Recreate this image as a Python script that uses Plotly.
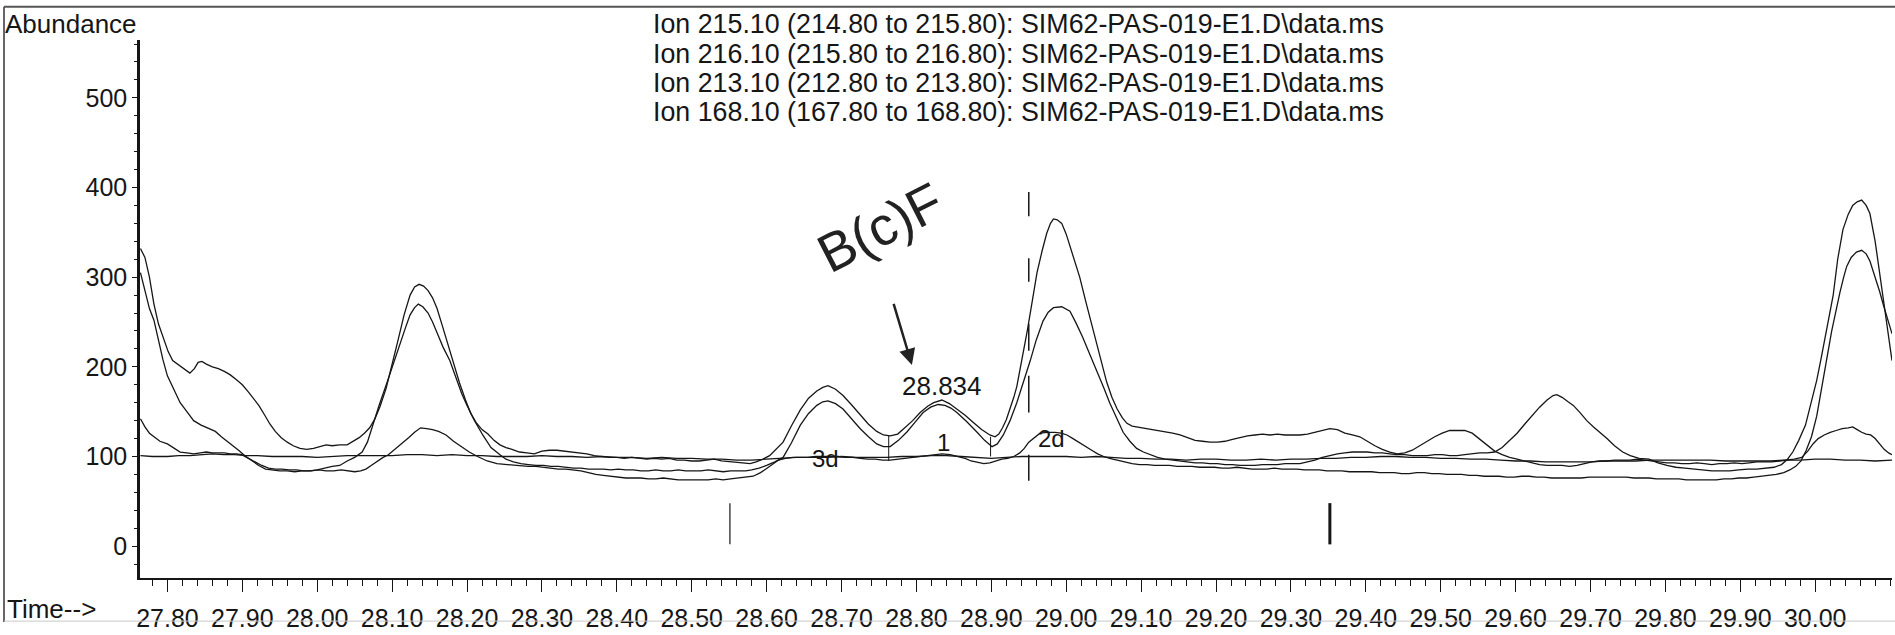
import plotly.graph_objects as go

# ---------------- chromatogram traces (retention time in min, abundance) ----------------
t_215 = [27.764, 27.770, 27.776, 27.782, 27.788, 27.795, 27.801, 27.807, 27.815, 27.823, 27.830, 27.836,
         27.841, 27.846, 27.852, 27.860, 27.868, 27.876, 27.884, 27.893, 27.900, 27.908, 27.915, 27.922,
         27.930, 27.937, 27.944, 27.952, 27.960, 27.968, 27.977, 27.986, 27.995, 28.003, 28.012, 28.020,
         28.030, 28.040, 28.048, 28.056, 28.063, 28.070, 28.077, 28.084, 28.092, 28.100, 28.108, 28.116,
         28.124, 28.130, 28.136, 28.142, 28.148, 28.154, 28.160, 28.167, 28.174, 28.182, 28.190, 28.198,
         28.205, 28.212, 28.220, 28.228, 28.236, 28.244, 28.252, 28.260, 28.270, 28.280, 28.290, 28.300,
         28.310, 28.320, 28.330, 28.340, 28.350, 28.360, 28.370, 28.380, 28.390, 28.400, 28.410, 28.420,
         28.430, 28.440, 28.450, 28.460, 28.470, 28.480, 28.490, 28.500, 28.510, 28.520, 28.530, 28.540,
         28.550, 28.560, 28.570, 28.578, 28.586, 28.595, 28.604, 28.613, 28.622, 28.633, 28.645, 28.656,
         28.667, 28.675, 28.682, 28.692, 28.702, 28.713, 28.725, 28.736, 28.747, 28.756, 28.765, 28.775,
         28.783, 28.795, 28.805, 28.815, 28.823, 28.834, 28.844, 28.854, 28.865, 28.876, 28.887, 28.898,
         28.905, 28.910, 28.915, 28.920, 28.925, 28.930, 28.934, 28.941, 28.948, 28.955, 28.961, 28.968,
         28.974, 28.979, 28.983, 28.988, 28.994, 29.000, 29.005, 29.012, 29.018, 29.027, 29.036, 29.045,
         29.054, 29.061, 29.068, 29.075, 29.081, 29.088, 29.095, 29.104, 29.112, 29.122, 29.132, 29.142,
         29.152, 29.162, 29.172, 29.182, 29.192, 29.202, 29.212, 29.222, 29.232, 29.242, 29.252, 29.262,
         29.272, 29.282, 29.292, 29.302, 29.312, 29.322, 29.332, 29.342, 29.352, 29.362, 29.372, 29.382,
         29.392, 29.402, 29.412, 29.422, 29.432, 29.442, 29.452, 29.462, 29.472, 29.482, 29.492, 29.502,
         29.512, 29.522, 29.532, 29.542, 29.552, 29.562, 29.572, 29.582, 29.592, 29.602, 29.612, 29.622,
         29.632, 29.642, 29.652, 29.662, 29.672, 29.682, 29.692, 29.702, 29.712, 29.722, 29.732, 29.742,
         29.752, 29.762, 29.772, 29.782, 29.792, 29.802, 29.812, 29.822, 29.832, 29.842, 29.852, 29.862,
         29.872, 29.882, 29.892, 29.902, 29.912, 29.922, 29.932, 29.942, 29.952, 29.962, 29.972, 29.982,
         29.990, 29.997, 30.004, 30.012, 30.020, 30.028, 30.036, 30.044, 30.050, 30.056, 30.062, 30.068,
         30.074, 30.080, 30.086, 30.092, 30.098, 30.1025]
a_215 = [332, 322, 300, 270, 248, 230, 217, 207, 202, 197, 193, 198,
         205, 206, 203, 200, 198, 195, 191, 185, 180, 172, 165, 157,
         146, 136, 128, 121, 116, 112, 109, 108, 109, 111, 113, 112,
         113, 113, 117, 121, 126, 132, 142, 156, 176, 202, 230, 258,
         280, 289, 292, 290, 285, 277, 265, 246, 226, 203, 182, 163,
         148, 138, 130, 125, 118, 113, 110, 108, 105, 104, 103, 106,
         107, 107, 106, 105, 104, 103, 101, 100, 99, 99, 98, 99,
         98, 97, 98, 97, 98, 96, 96, 95, 95, 96, 97, 95,
         94, 93, 92, 92, 94, 97, 101, 108, 116, 134, 152, 165,
         173, 177, 179, 175, 168, 158, 146, 136, 128, 124, 123, 125,
         131, 140, 149, 156, 160, 163, 159, 153, 146, 138, 130, 124,
         122, 125, 132, 141, 153, 166, 178, 207, 240, 275, 305, 330,
         349, 360, 365, 364, 360, 348, 335, 318, 300, 270, 240, 210,
         183, 166, 153, 143, 137, 134, 133, 131, 130, 129, 127, 126,
         124, 121, 118, 117, 116, 116, 117, 119, 121, 123, 124, 125,
         124, 125, 124, 124, 124, 125, 127, 129, 131, 130, 126, 124,
         122, 117, 112, 108, 105, 103, 104, 107, 112, 117, 122, 126,
         129, 129, 129, 126, 119, 112, 106, 102, 99, 97, 95, 93,
         91, 90, 90, 90, 89, 90, 92, 94, 95, 95, 96, 96,
         96, 97, 96, 95, 94, 93, 93, 92, 92, 93, 92, 91,
         92, 92, 93, 92, 93, 94, 94, 94, 95, 96, 97, 99,
         106, 114, 120, 124, 127, 129, 131, 132, 133, 130, 127, 125,
         124, 120, 114, 108, 104, 102]

t_216 = [27.764, 27.770, 27.776, 27.782, 27.788, 27.794, 27.800, 27.808, 27.817, 27.826, 27.835, 27.845,
         27.855, 27.864, 27.872, 27.880, 27.887, 27.895, 27.903, 27.913, 27.922, 27.931, 27.940, 27.950,
         27.960, 27.970, 27.980, 27.990, 28.000, 28.010, 28.020, 28.030, 28.040, 28.050, 28.060, 28.067,
         28.074, 28.083, 28.093, 28.102, 28.111, 28.118, 28.124, 28.130, 28.135, 28.141, 28.148, 28.154,
         28.160, 28.168, 28.177, 28.185, 28.193, 28.200, 28.210, 28.221, 28.232, 28.244, 28.252, 28.262,
         28.272, 28.282, 28.292, 28.302, 28.312, 28.322, 28.332, 28.342, 28.352, 28.362, 28.372, 28.382,
         28.392, 28.402, 28.412, 28.422, 28.432, 28.442, 28.452, 28.462, 28.472, 28.482, 28.492, 28.502,
         28.512, 28.522, 28.532, 28.542, 28.552, 28.562, 28.572, 28.580, 28.590, 28.600, 28.611, 28.622,
         28.633, 28.645, 28.656, 28.667, 28.675, 28.682, 28.692, 28.702, 28.713, 28.725, 28.736, 28.747,
         28.756, 28.765, 28.776, 28.787, 28.798, 28.809, 28.819, 28.829, 28.838, 28.846, 28.854, 28.867,
         28.881, 28.891, 28.901, 28.908, 28.916, 28.925, 28.934, 28.943, 28.952, 28.960, 28.969, 28.976,
         28.983, 28.994, 29.005, 29.013, 29.022, 29.031, 29.041, 29.050, 29.058, 29.067, 29.076, 29.085,
         29.094, 29.103, 29.112, 29.122, 29.132, 29.142, 29.152, 29.162, 29.172, 29.182, 29.192, 29.202,
         29.212, 29.222, 29.232, 29.242, 29.252, 29.262, 29.272, 29.282, 29.292, 29.302, 29.312, 29.322,
         29.332, 29.342, 29.352, 29.362, 29.372, 29.382, 29.392, 29.402, 29.412, 29.422, 29.432, 29.442,
         29.452, 29.462, 29.472, 29.482, 29.492, 29.502, 29.512, 29.522, 29.532, 29.542, 29.552, 29.562,
         29.572, 29.582, 29.592, 29.602, 29.612, 29.622, 29.632, 29.642, 29.650, 29.655, 29.662, 29.670,
         29.677, 29.686, 29.695, 29.704, 29.713, 29.722, 29.732, 29.743, 29.753, 29.765, 29.778, 29.790,
         29.802, 29.814, 29.826, 29.838, 29.850, 29.862, 29.874, 29.886, 29.898, 29.910, 29.922, 29.934,
         29.945, 29.955, 29.963, 29.970, 29.978, 29.987, 29.995, 30.002, 30.008, 30.015, 30.024, 30.030,
         30.037, 30.044, 30.050, 30.056, 30.062, 30.068, 30.073, 30.080, 30.087, 30.094, 30.1025]
a_216 = [305, 285, 265, 252, 230, 208, 190, 175, 160, 150, 140, 135,
         131, 128, 122, 117, 113, 107, 101, 95, 90, 86, 85, 84,
         84, 83, 84, 84, 85, 87, 89, 90, 95, 99, 105, 116,
         135, 158, 182, 205, 226, 244, 258, 266, 270, 267, 260, 250,
         238, 222, 207, 188, 170, 157, 140, 124, 110, 102, 97, 94,
         92, 91, 90, 90, 89, 89, 88, 87, 87, 86, 86, 86,
         85, 86, 85, 85, 84, 84, 85, 84, 84, 85, 84, 84,
         84, 85, 84, 83, 84, 84, 84, 85, 87, 90, 94, 99,
         115, 135, 148, 157, 161, 162, 159, 153, 142, 131, 122, 114,
         111, 111, 118, 127, 138, 149, 155, 158, 157, 154, 149, 139,
         127, 118, 111, 114, 124, 140, 160, 183, 207, 230, 251, 261,
         266, 267, 262, 249, 233, 215, 196, 177, 160, 143, 127, 117,
         109, 105, 102, 99, 97, 96, 95, 94, 93, 93, 92, 92,
         91, 91, 90, 90, 90, 91, 91, 91, 92, 92, 92, 94,
         96, 99, 101, 103, 104, 105, 105, 105, 104, 104, 103, 102,
         102, 101, 101, 101, 102, 102, 101, 101, 102, 103, 104, 104,
         105, 110, 118, 126, 136, 146, 155, 163, 168, 169, 166, 161,
         157, 149, 140, 133, 127, 120, 112, 105, 101, 98, 97, 93,
         90, 88, 87, 86, 85, 84, 84, 84, 85, 86, 86, 87,
         88, 91, 97, 105, 118, 135, 160, 185, 210, 240, 280, 320,
         353, 370, 380, 384, 386, 380, 371, 340, 299, 255, 207]

t_213 = [27.764, 27.770, 27.776, 27.782, 27.790, 27.800, 27.808, 27.817, 27.826, 27.835, 27.844, 27.852,
         27.860, 27.868, 27.876, 27.884, 27.892, 27.899, 27.908, 27.917, 27.926, 27.935, 27.944, 27.953,
         27.962, 27.972, 27.982, 27.992, 28.002, 28.012, 28.022, 28.032, 28.042, 28.050, 28.058, 28.065,
         28.072, 28.080, 28.088, 28.095, 28.104, 28.113, 28.122, 28.130, 28.138, 28.146, 28.154, 28.162,
         28.172, 28.182, 28.192, 28.203, 28.214, 28.227, 28.240, 28.252, 28.262, 28.272, 28.282, 28.292,
         28.302, 28.312, 28.322, 28.332, 28.342, 28.352, 28.362, 28.372, 28.382, 28.392, 28.402, 28.412,
         28.422, 28.432, 28.442, 28.452, 28.462, 28.472, 28.482, 28.492, 28.502, 28.512, 28.522, 28.532,
         28.542, 28.552, 28.562, 28.572, 28.582, 28.592, 28.600, 28.608, 28.616, 28.625, 28.635, 28.645,
         28.655, 28.665, 28.675, 28.685, 28.695, 28.705, 28.715, 28.725, 28.735, 28.745, 28.755, 28.765,
         28.775, 28.785, 28.795, 28.805, 28.815, 28.825, 28.834, 28.845, 28.855, 28.865, 28.873, 28.882,
         28.890, 28.898, 28.906, 28.914, 28.922, 28.930, 28.938, 28.944, 28.950, 28.957, 28.965, 28.975,
         28.985, 28.993, 29.001, 29.009, 29.018, 29.026, 29.034, 29.042, 29.050, 29.058, 29.068, 29.078,
         29.088, 29.098, 29.108, 29.118, 29.128, 29.138, 29.148, 29.158, 29.168, 29.178, 29.188, 29.198,
         29.208, 29.218, 29.228, 29.238, 29.248, 29.258, 29.268, 29.278, 29.288, 29.298, 29.308, 29.318,
         29.328, 29.338, 29.348, 29.358, 29.368, 29.378, 29.388, 29.398, 29.408, 29.418, 29.428, 29.438,
         29.448, 29.458, 29.468, 29.478, 29.488, 29.498, 29.508, 29.518, 29.528, 29.538, 29.548, 29.558,
         29.568, 29.578, 29.588, 29.598, 29.608, 29.618, 29.628, 29.638, 29.648, 29.658, 29.668, 29.678,
         29.688, 29.698, 29.708, 29.718, 29.728, 29.738, 29.748, 29.758, 29.768, 29.778, 29.788, 29.798,
         29.808, 29.818, 29.828, 29.838, 29.848, 29.858, 29.868, 29.878, 29.888, 29.898, 29.908, 29.918,
         29.928, 29.938, 29.948, 29.958, 29.966, 29.974, 29.981, 29.988, 29.995, 30.002, 30.008, 30.015,
         30.022, 30.028, 30.033, 30.038, 30.042, 30.048, 30.055, 30.062, 30.068, 30.073, 30.080, 30.086,
         30.091, 30.097, 30.1025]
a_213 = [142, 133, 126, 122, 117, 114, 110, 105, 104, 103, 104, 105,
         104, 104, 104, 103, 103, 102, 98, 94, 90, 87, 86, 86,
         85, 85, 84, 84, 85, 84, 84, 85, 84, 83, 84, 86,
         90, 95, 99, 102, 108, 114, 121, 127, 132, 131, 130, 128,
         124, 117, 111, 105, 100, 95, 92, 91, 91, 90, 89, 89,
         88, 87, 86, 86, 85, 84, 82, 80, 79, 78, 77, 76,
         76, 76, 75, 75, 76, 75, 74, 74, 74, 74, 74, 75,
         74, 75, 76, 77, 78, 82, 87, 92, 96, 98, 99, 99,
         99, 100, 100, 100, 100, 99, 99, 98, 97, 97, 96, 96,
         97, 98, 99, 100, 101, 102, 103, 102, 100, 98, 95, 93,
         92, 93, 95, 97, 98, 100, 104, 109, 116, 121, 126, 127,
         127, 126, 124, 120, 115, 111, 107, 103, 100, 98, 96, 94,
         92, 91, 91, 90, 90, 90, 89, 89, 89, 88, 88, 88,
         87, 87, 88, 87, 86, 86, 86, 87, 86, 86, 86, 85,
         85, 85, 84, 84, 84, 83, 83, 83, 83, 82, 82, 82,
         81, 81, 82, 82, 81, 81, 80, 80, 80, 79, 79, 78,
         78, 78, 77, 77, 78, 78, 77, 77, 76, 76, 76, 76,
         76, 77, 77, 77, 77, 77, 77, 76, 76, 76, 75, 75,
         75, 75, 74, 74, 74, 74, 74, 75, 75, 76, 76, 77,
         78, 79, 80, 82, 85, 89, 95, 107, 122, 145, 172, 207,
         240, 265, 283, 300, 312, 322, 328, 330, 326, 318, 300, 284,
         269, 252, 237]

t_168 = [27.764, 27.780, 27.800, 27.815, 27.830, 27.845, 27.860, 27.875, 27.890, 27.905, 27.920, 27.940,
         27.960, 27.980, 28.000, 28.020, 28.040, 28.060, 28.080, 28.100, 28.120, 28.140, 28.160, 28.180,
         28.200, 28.220, 28.240, 28.260, 28.280, 28.300, 28.320, 28.340, 28.360, 28.380, 28.400, 28.420,
         28.440, 28.460, 28.480, 28.500, 28.520, 28.540, 28.560, 28.580, 28.600, 28.620, 28.640, 28.660,
         28.680, 28.700, 28.720, 28.740, 28.760, 28.780, 28.800, 28.820, 28.840, 28.860, 28.880, 28.900,
         28.920, 28.940, 28.960, 28.980, 29.000, 29.020, 29.040, 29.060, 29.080, 29.100, 29.120, 29.140,
         29.160, 29.180, 29.200, 29.220, 29.240, 29.260, 29.280, 29.300, 29.320, 29.340, 29.360, 29.380,
         29.400, 29.420, 29.440, 29.460, 29.480, 29.500, 29.520, 29.540, 29.560, 29.580, 29.600, 29.620,
         29.640, 29.660, 29.680, 29.700, 29.720, 29.740, 29.760, 29.780, 29.800, 29.820, 29.840, 29.860,
         29.880, 29.900, 29.920, 29.940, 29.960, 29.980, 30.000, 30.020, 30.040, 30.060, 30.080, 30.1025]
a_168 = [101, 100, 100, 101, 101, 102, 103, 102, 102, 101, 101, 100,
         100, 100, 99, 100, 101, 101, 101, 101, 102, 102, 101, 102,
         101, 101, 100, 100, 100, 101, 100, 100, 99, 100, 99, 99,
         98, 99, 98, 98, 97, 97, 96, 96, 97, 98, 99, 99,
         99, 100, 99, 99, 99, 100, 100, 101, 101, 100, 99, 98,
         99, 100, 100, 100, 100, 99, 100, 99, 98, 98, 97, 97,
         96, 97, 97, 96, 96, 97, 96, 97, 97, 98, 98, 99,
         99, 100, 100, 99, 99, 98, 98, 97, 97, 96, 95, 95,
         94, 94, 94, 94, 95, 95, 95, 96, 96, 96, 96, 96,
         95, 95, 95, 95, 96, 96, 97, 97, 96, 96, 95, 96]

# ---------------- peak integration drops, event marks and labels ----------------
drop_t = [28.763, 28.899]
drop_top = [124, 122]
drop_bottom = [95, 100]

event_t = [28.551, 29.352]
event_top = [48, 48]
event_bottom = [2, 2]
event_width = [1.2, 3.0]

marker_t = 28.950
marker_segments = [(395, 368), (321, 295), (248, 218), (190, 149), (102, 73)]

peak_rt = 28.834
peak_label_v = 179
peak_tags = ["3d", "1", "2d"]
peak_tag_t = [28.679, 28.836, 28.981]
peak_tag_v = [98, 116, 120]

note_text = "B(c)F"
note_t, note_v = 28.752, 356
arrow_head = (28.794, 202)
arrow_tail = (28.769, 272)

ion_lines = [
    "Ion 215.10 (214.80 to 215.80): SIM62-PAS-019-E1.D\\data.ms",
    "Ion 216.10 (215.80 to 216.80): SIM62-PAS-019-E1.D\\data.ms",
    "Ion 213.10 (212.80 to 213.80): SIM62-PAS-019-E1.D\\data.ms",
    "Ion 168.10 (167.80 to 168.80): SIM62-PAS-019-E1.D\\data.ms",
]

y_ticks = [0, 100, 200, 300, 400, 500]
x_ticks = [round(27.80 + 0.1 * i, 2) for i in range(23)]

# ---------------- page geometry (pixels) ----------------
W, H = 1895, 635
L, R, T, B = 140, 3, 40, 46
PW, PH = W - L - R, H - T - B
FONT = "Liberation Sans, Arial, Helvetica, sans-serif"
INK = "#161616"


def px(xpix):
    return (xpix - L) / PW


def py(ypix):
    return (H - B - ypix) / PH


fig = go.Figure()

for t, v in [(t_215, a_215), (t_216, a_216), (t_213, a_213), (t_168, a_168)]:
    fig.add_trace(go.Scatter(x=t, y=v, mode="lines", line=dict(color=INK, width=1.3),
                             hoverinfo="skip", showlegend=False))

shapes = []
for t, y0, y1 in zip(drop_t, drop_top, drop_bottom):
    shapes.append(dict(type="line", xref="x", yref="y", x0=t, x1=t, y0=y0, y1=y1,
                       line=dict(color=INK, width=1)))
for t, y0, y1, w in zip(event_t, event_top, event_bottom, event_width):
    shapes.append(dict(type="line", xref="x", yref="y", x0=t, x1=t, y0=y0, y1=y1,
                       line=dict(color=INK, width=w)))
for y0, y1 in marker_segments:
    shapes.append(dict(type="line", xref="x", yref="y", x0=marker_t, x1=marker_t, y0=y0, y1=y1,
                       line=dict(color=INK, width=1.5)))

# outer frame of the printout
shapes += [
    dict(type="line", xref="paper", yref="paper", x0=px(4), x1=px(4), y0=py(6), y1=py(634),
         line=dict(color="#333", width=1.5)),
    dict(type="line", xref="paper", yref="paper", x0=px(4), x1=px(W), y0=py(6), y1=py(6),
         line=dict(color="#555", width=2)),
    dict(type="line", xref="paper", yref="paper", x0=px(4), x1=px(W), y0=py(633), y1=py(633),
         line=dict(color="#c8c8c8", width=1)),
]

annotations = []
for i, line in enumerate(ion_lines):
    annotations.append(dict(text=line, xref="paper", yref="paper", x=px(651), y=py(24 + 29.8 * i),
                            xanchor="left", yanchor="middle", showarrow=False,
                            font=dict(family=FONT, size=26.8, color=INK)))
annotations.append(dict(text="Abundance", xref="paper", yref="paper", x=px(3), y=py(24),
                        xanchor="left", yanchor="middle", showarrow=False,
                        font=dict(family=FONT, size=26, color=INK)))
annotations.append(dict(text="Time-->", xref="paper", yref="paper", x=px(5), y=py(621),
                        xanchor="left", yanchor="middle", showarrow=False,
                        font=dict(family=FONT, size=26, color=INK)))
annotations.append(dict(text=f"{peak_rt:.3f}", x=peak_rt, y=peak_label_v, xref="x", yref="y",
                        showarrow=False, xanchor="center", yanchor="middle",
                        font=dict(family=FONT, size=26, color=INK)))
for tag, t, v in zip(peak_tags, peak_tag_t, peak_tag_v):
    annotations.append(dict(text=tag, x=t, y=v, xref="x", yref="y", showarrow=False,
                            xanchor="center", yanchor="middle",
                            font=dict(family=FONT, size=24, color=INK)))
# handwritten compound note with its arrow
annotations.append(dict(text=note_text, x=note_t, y=note_v, xref="x", yref="y", showarrow=False,
                        textangle=-27, xanchor="center", yanchor="middle",
                        font=dict(family="Liberation Sans Narrow, " + FONT, size=54, color="#222")))
annotations.append(dict(text="", x=arrow_head[0], y=arrow_head[1], ax=arrow_tail[0], ay=arrow_tail[1],
                        xref="x", yref="y", axref="x", ayref="y", showarrow=True,
                        arrowhead=2, arrowsize=1.3, arrowwidth=2.5, arrowcolor="#222"))

fig.update_layout(
    width=W, height=H,
    margin=dict(l=L, r=R, t=T, b=B, pad=0),
    paper_bgcolor="white", plot_bgcolor="white",
    showlegend=False,
    shapes=shapes,
    annotations=annotations,
    xaxis=dict(
        range=[27.7634, 30.1025], showgrid=False, zeroline=False,
        showline=True, linecolor=INK, linewidth=1.5,
        tickmode="array", tickvals=x_ticks, ticktext=[f"{v:.2f}" for v in x_ticks],
        ticks="outside", ticklen=12, tickwidth=1.2, tickcolor=INK,
        ticklabelstandoff=5,
        tickfont=dict(family=FONT, size=25, color=INK),
        minor=dict(ticks="outside", ticklen=6, tickwidth=1, tickcolor=INK, dtick=0.02, tick0=27.78),
    ),
    yaxis=dict(
        range=[-35.5, 564.5], showgrid=False, zeroline=False,
        showline=True, linecolor=INK, linewidth=2.5,
        tickmode="array", tickvals=y_ticks,
        ticks="outside", ticklen=5, tickwidth=1, tickcolor=INK,
        tickfont=dict(family=FONT, size=25, color=INK),
        minor=dict(ticks="outside", ticklen=3, tickwidth=1, tickcolor=INK, dtick=20, tick0=0),
    ),
)

fig.write_html("out.html")
